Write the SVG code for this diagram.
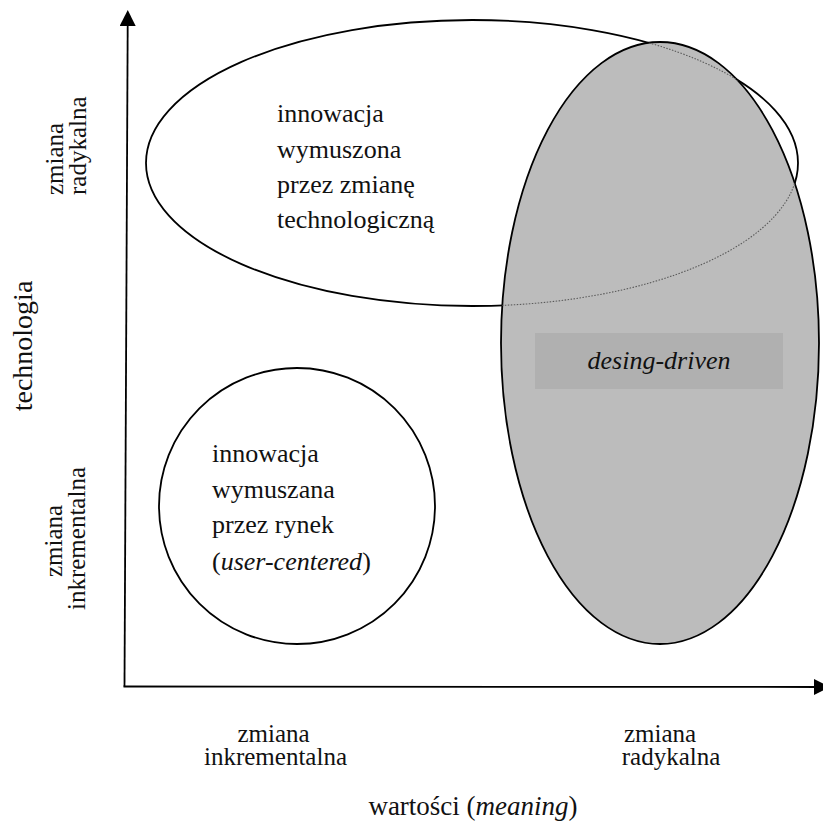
<svg xmlns="http://www.w3.org/2000/svg" width="823" height="821" viewBox="0 0 823 821" font-family="'Liberation Serif', 'DejaVu Serif', serif">
  <style>
    text { font-family: 'Liberation Serif', 'DejaVu Serif', serif; fill: #111; }
    .t { font-size: 26px; }
    .ax { font-size: 25px; }
    .title { font-size: 28px; }
    .it { font-style: italic; }
    .outline { stroke: #000; stroke-width: 1.8; }
    .axis { stroke: #000; stroke-width: 1.8; fill: none; }
  </style>
  <defs>
    <marker id="arrow" viewBox="0 0 16 16" refX="2" refY="8" markerWidth="16" markerHeight="16" markerUnits="userSpaceOnUse" orient="auto">
      <path d="M0,0 L16,8 L0,16 Z" fill="#000"/>
    </marker>
    <clipPath id="grayClip">
      <ellipse cx="660" cy="343" rx="159" ry="301"/>
    </clipPath>
  </defs>

  <!-- connectors / axes -->
  <g id="axes">
    <line class="axis" x1="124.5" y1="686.5" x2="127.7" y2="24" marker-end="url(#arrow)"/>
    <line class="axis" x1="123.5" y1="686.5" x2="816" y2="687" marker-end="url(#arrow)"/>
  </g>

  <!-- technology-driven ellipse -->
  <g id="node-technology">
    <ellipse class="outline" cx="472" cy="163" rx="326" ry="143" fill="#fff"/>
    <text class="t" x="277" y="122">innowacja</text>
    <text class="t" x="277" y="158">wymuszona</text>
    <text class="t" x="277" y="193">przez zmianę</text>
    <text class="t" x="277" y="228">technologiczną</text>
  </g>

  <!-- design-driven ellipse -->
  <g id="node-design">
    <ellipse class="outline" cx="660" cy="343" rx="159" ry="301" fill="#bcbcbc"/>
    <ellipse cx="472" cy="163" rx="326" ry="143" fill="none" stroke="#5a5a5a" stroke-width="1.1" stroke-dasharray="1.5 1.5" clip-path="url(#grayClip)"/>
    <rect x="535" y="333" width="248" height="56" fill="#b0b0b0"/>
    <text class="t it" x="659" y="369" text-anchor="middle">desing-driven</text>
  </g>

  <!-- market / user-centered circle -->
  <g id="node-market">
    <circle class="outline" cx="297" cy="506" r="138" fill="#fff"/>
    <text class="t" x="212" y="462">innowacja</text>
    <text class="t" x="212" y="498">wymuszana</text>
    <text class="t" x="212" y="533">przez rynek</text>
    <text class="t" x="212" y="570">(<tspan class="it">user-centered</tspan>)</text>
  </g>

  <!-- axis labels -->
  <g id="labels-y">
    <text class="title" transform="translate(32,346) rotate(-90)" text-anchor="middle">technologia</text>
    <text class="ax" transform="translate(63,195) rotate(-90)">zmiana</text>
    <text class="ax" transform="translate(86,195) rotate(-90)">radykalna</text>
    <text class="ax" transform="translate(62,541) rotate(-90)" text-anchor="middle">zmiana</text>
    <text class="ax" transform="translate(85,538.5) rotate(-90)" text-anchor="middle">inkrementalna</text>
  </g>
  <g id="labels-x">
    <text class="ax" x="273.5" y="742" text-anchor="middle">zmiana</text>
    <text class="ax" x="275.5" y="765" text-anchor="middle">inkrementalna</text>
    <text class="ax" x="660" y="742" text-anchor="middle">zmiana</text>
    <text class="ax" x="671" y="765" text-anchor="middle">radykalna</text>
    <text class="title" x="473" y="815" text-anchor="middle" style="font-size:27px">wartości (<tspan class="it">meaning</tspan>)</text>
  </g>
</svg>
